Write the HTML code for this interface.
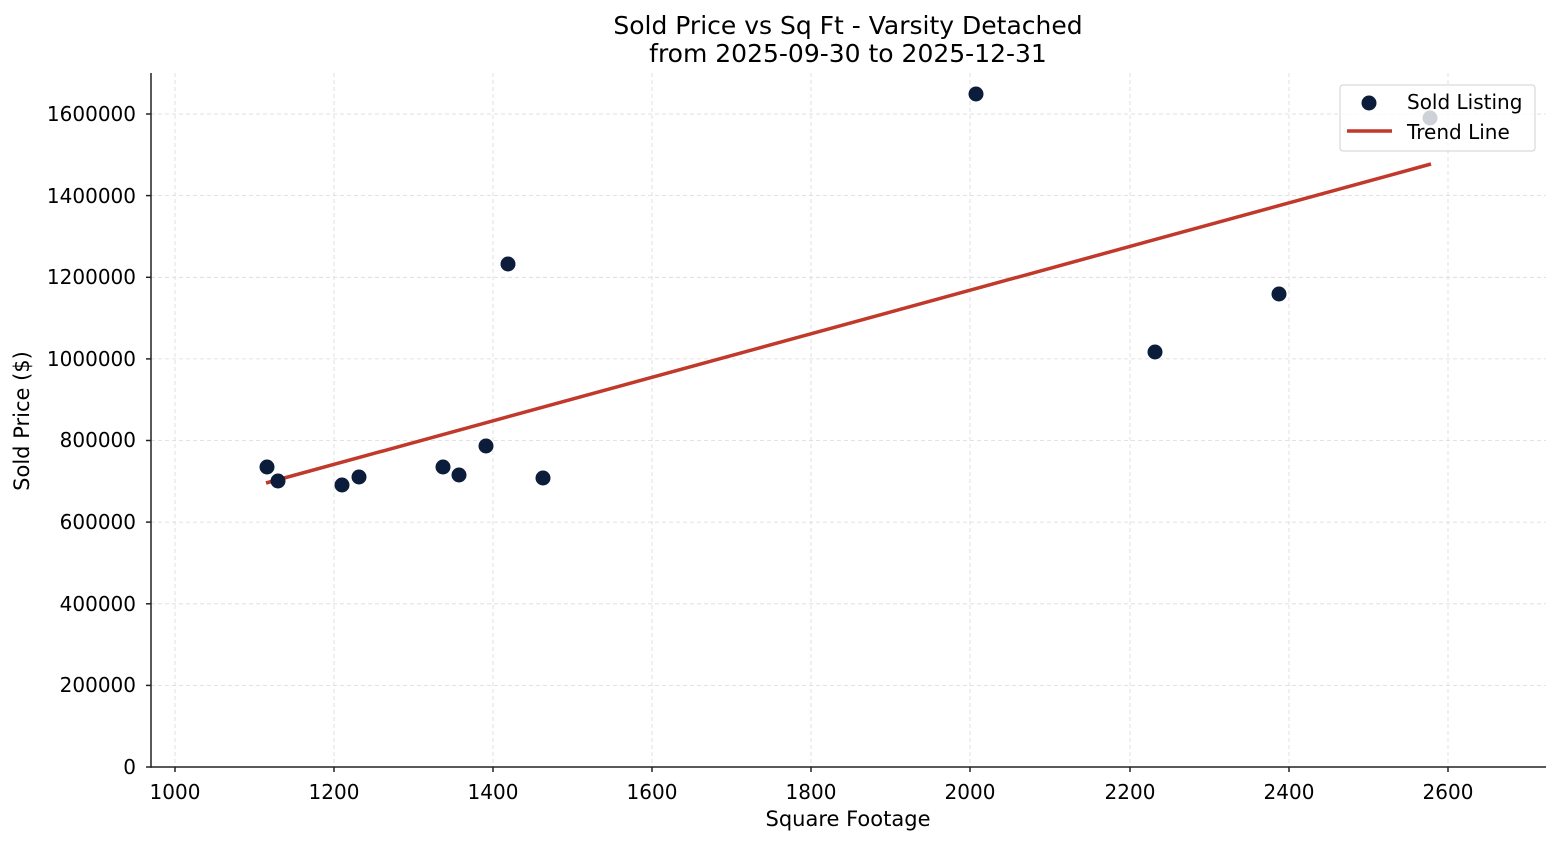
<!DOCTYPE html>
<html><head><meta charset="utf-8"><style>body{margin:0;background:#fff}svg{display:block}text{font-family:"DejaVu Sans","Liberation Sans",sans-serif;fill:#000}</style></head><body>
<svg width="1560" height="845" viewBox="0 0 1560 845" xmlns="http://www.w3.org/2000/svg">
<g stroke="#d9d9d9" stroke-width="0.8" stroke-dasharray="4,3">
<line x1="175" y1="73" x2="175" y2="767"/><line x1="334" y1="73" x2="334" y2="767"/><line x1="493" y1="73" x2="493" y2="767"/><line x1="652" y1="73" x2="652" y2="767"/><line x1="811" y1="73" x2="811" y2="767"/><line x1="970" y1="73" x2="970" y2="767"/><line x1="1130" y1="73" x2="1130" y2="767"/><line x1="1289" y1="73" x2="1289" y2="767"/><line x1="1448" y1="73" x2="1448" y2="767"/>
<line x1="151" y1="685.4" x2="1546" y2="685.4"/><line x1="151" y1="603.8" x2="1546" y2="603.8"/><line x1="151" y1="522.1" x2="1546" y2="522.1"/><line x1="151" y1="440.5" x2="1546" y2="440.5"/><line x1="151" y1="358.9" x2="1546" y2="358.9"/><line x1="151" y1="277.3" x2="1546" y2="277.3"/><line x1="151" y1="195.6" x2="1546" y2="195.6"/><line x1="151" y1="114" x2="1546" y2="114"/>
</g>
<g stroke="#222" stroke-width="1.5">
<line x1="151" y1="73" x2="151" y2="767.7"/><line x1="150.3" y1="767" x2="1546" y2="767"/>
<line x1="175" y1="767" x2="175" y2="772"/><line x1="334" y1="767" x2="334" y2="772"/><line x1="493" y1="767" x2="493" y2="772"/><line x1="652" y1="767" x2="652" y2="772"/><line x1="811" y1="767" x2="811" y2="772"/><line x1="970" y1="767" x2="970" y2="772"/><line x1="1130" y1="767" x2="1130" y2="772"/><line x1="1289" y1="767" x2="1289" y2="772"/><line x1="1448" y1="767" x2="1448" y2="772"/>
<line x1="146" y1="767" x2="151" y2="767"/><line x1="146" y1="685.4" x2="151" y2="685.4"/><line x1="146" y1="603.8" x2="151" y2="603.8"/><line x1="146" y1="522.1" x2="151" y2="522.1"/><line x1="146" y1="440.5" x2="151" y2="440.5"/><line x1="146" y1="358.9" x2="151" y2="358.9"/><line x1="146" y1="277.3" x2="151" y2="277.3"/><line x1="146" y1="195.6" x2="151" y2="195.6"/><line x1="146" y1="114" x2="151" y2="114"/>
</g>
<g font-size="20" text-anchor="middle">
<text x="175" y="799">1000</text><text x="334" y="799">1200</text><text x="493" y="799">1400</text><text x="652" y="799">1600</text><text x="811" y="799">1800</text><text x="970" y="799">2000</text><text x="1130" y="799">2200</text><text x="1289" y="799">2400</text><text x="1448" y="799">2600</text>
</g>
<g font-size="20" text-anchor="end">
<text x="136" y="774">0</text><text x="136" y="692">200000</text><text x="136" y="611">400000</text><text x="136" y="529">600000</text><text x="136" y="447">800000</text><text x="136" y="366">1000000</text><text x="136" y="284">1200000</text><text x="136" y="203">1400000</text><text x="136" y="121">1600000</text>
</g>
<text x="848" y="826" font-size="21" text-anchor="middle">Square Footage</text>
<text transform="translate(29,421) rotate(-90)" font-size="21" text-anchor="middle">Sold Price ($)</text>
<text x="848" y="34" font-size="25" text-anchor="middle">Sold Price vs Sq Ft - Varsity Detached</text>
<text x="848" y="62" font-size="25" text-anchor="middle">from 2025-09-30 to 2025-12-31</text>
<line x1="266" y1="483" x2="1431" y2="164" stroke="#c0392b" stroke-width="3.5"/>
<g fill="#0b1d3a">
<circle cx="267" cy="467" r="7.5"/><circle cx="278" cy="481" r="7.5"/><circle cx="342" cy="485" r="7.5"/><circle cx="359" cy="477" r="7.5"/><circle cx="443" cy="467" r="7.5"/><circle cx="459" cy="475" r="7.5"/><circle cx="486" cy="446" r="7.5"/><circle cx="508" cy="264" r="7.5"/><circle cx="543" cy="478" r="7.5"/><circle cx="976" cy="94" r="7.5"/><circle cx="1155" cy="352" r="7.5"/><circle cx="1279" cy="294" r="7.5"/><circle cx="1430" cy="118" r="7.5"/>
</g>
<rect x="1340" y="85" width="195" height="66" rx="3" fill="#fff" fill-opacity="0.8" stroke="#d0d0d0" stroke-width="1"/>
<circle cx="1369" cy="103" r="7.5" fill="#0b1d3a"/>
<line x1="1347" y1="131" x2="1392" y2="131" stroke="#c0392b" stroke-width="3.5"/>
<text x="1407" y="109" font-size="20">Sold Listing</text>
<text x="1407" y="139" font-size="20">Trend Line</text>
</svg>
</body></html>
